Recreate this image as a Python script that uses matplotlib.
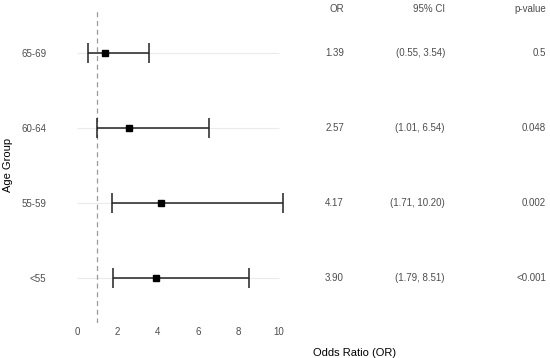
import matplotlib
matplotlib.use("Agg")
import matplotlib.pyplot as plt

plt.rcParams['font.family'] = ['Liberation Sans', 'DejaVu Sans']

# data (bottom row first)
groups = ["<55", "55-59", "60-64", "65-69"]
odds = [3.90, 4.17, 2.57, 1.39]
ci_lo = [1.79, 1.71, 1.01, 0.55]
ci_hi = [8.51, 10.20, 6.54, 3.54]
or_txt = ["3.90", "4.17", "2.57", "1.39"]
ci_txt = ["(1.79, 8.51)", "(1.71, 10.20)", "(1.01, 6.54)", "(0.55, 3.54)"]
p_txt = ["<0.001", "0.002", "0.048", "0.5"]
x_ticks = [0, 2, 4, 6, 8, 10]

W, H = 550, 358
fig = plt.figure(figsize=(W / 100, H / 100), dpi=100)
# panel runs wider than the figure so the x title centres under the table too
ax = fig.add_axes([77 / W, 1 - 323 / H, (633 - 77) / W, (323 - 8) / H])
ax.set_xlim(0, 27.5)
ax.set_ylim(0.4, 4.6)

ys = list(range(1, len(groups) + 1))
txt_col = '#4d4d4d'

# horizontal guides only over the 0-10 region
ax.hlines(ys, 0, 10, color='#ebebeb', lw=0.8, zorder=0)
ax.axvline(1, color='#9a9a9a', lw=0.9, ls=(0, (4, 3)), zorder=1)

ax.errorbar(odds, ys, xerr=[[o - l for o, l in zip(odds, ci_lo)],
                            [h - o for o, h in zip(odds, ci_hi)]],
            fmt='s', color='black', ms=4.5, ecolor='#222222', elinewidth=1.1,
            capsize=7.5, capthick=1.1, clip_on=False, zorder=3)

# table columns, right aligned
cols = [(13.2, "OR", or_txt), (18.2, "95% CI", ci_txt), (23.2, "p-value", p_txt)]
for xc, head, vals in cols:
    ax.text(xc, 4.58, head, ha='right', va='center', fontsize=7, color=txt_col)
    for y, v in zip(ys, vals):
        ax.text(xc, y, v, ha='right', va='center', fontsize=7, color=txt_col)

ax.set_xticks(x_ticks)
ax.set_yticks(ys)
ax.set_yticklabels(groups)
ax.tick_params(length=0, labelsize=7, labelcolor=txt_col)
ax.tick_params(axis='x', pad=3)
ax.tick_params(axis='y', pad=22)
for s in ax.spines.values():
    s.set_visible(False)

ax.set_xlabel("Odds Ratio (OR)", fontsize=8, color='black', labelpad=7.5)
fig.text(8 / W, 1 - 165 / H, "Age Group", rotation=90, ha='center', va='center',
         fontsize=8, color='black')

fig.savefig("out.png", dpi=100)
